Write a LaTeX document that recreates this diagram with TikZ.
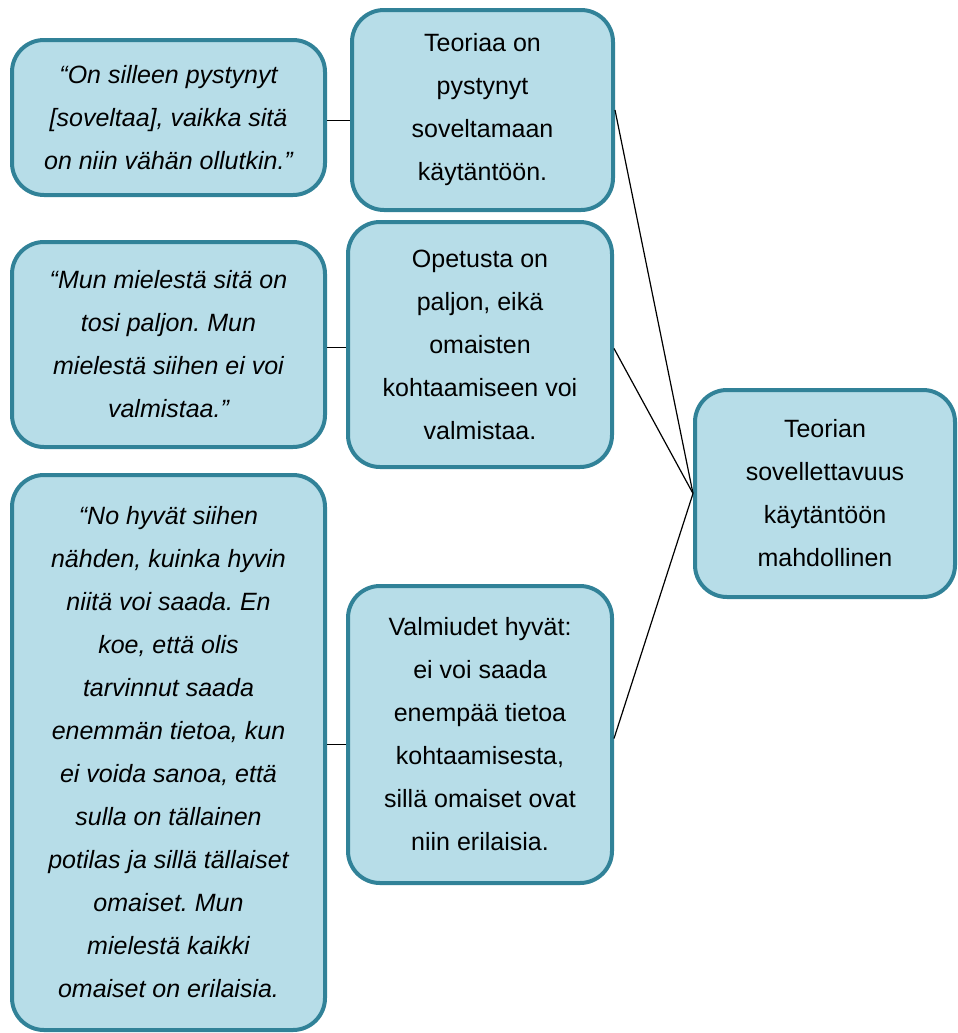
\documentclass[tikz,border=0pt]{standalone}
\usepackage{fontspec}
\setmainfont{Liberation Sans}
\definecolor{boxfill}{RGB}{183,221,232}
\definecolor{boxline}{RGB}{49,130,152}
\begin{document}
\frenchspacing
\begin{tikzpicture}[x=0.5pt,y=-0.5pt,
  box/.style={draw=boxline,fill=boxfill,line width=2pt,rounded corners=16pt,
    align=center,inner sep=0pt,font=\fontsize{12.5pt}{21.5pt}\selectfont},
  quote/.style={box,font=\fontsize{12.5pt}{21.5pt}\selectfont\itshape},
  link/.style={draw=black,line width=0.6pt}]
\useasboundingbox (0,0) rectangle (958,1033);
\node[quote,minimum width=156.5pt,minimum height=77.5pt] (q1) at (168.5,117.5)
  {“On silleen pystynyt\\{}{[}soveltaa{]}, vaikka sitä\\on niin vähän ollutkin.”};
\node[box,minimum width=130.5pt,minimum height=100pt] (t1) at (482.5,110)
  {Teoriaa on\\pystynyt\\soveltamaan\\käytäntöön.};
\node[quote,minimum width=156.5pt,minimum height=102.5pt] (q2) at (168.5,344.5)
  {“Mun mielestä sitä on\\tosi paljon. Mun\\mielestä siihen ei voi\\valmistaa.”};
\node[box,minimum width=132pt,minimum height=122.5pt] (t2) at (480,344.5)
  {Opetusta on\\paljon, eikä\\omaisten\\kohtaamiseen voi\\valmistaa.};
\node[quote,minimum width=156.5pt,minimum height=277.5pt] (q3) at (168.5,752.5)
  {“No hyvät siihen\\nähden, kuinka hyvin\\niitä voi saada. En\\koe, että olis\\tarvinnut saada\\enemmän tietoa, kun\\ei voida sanoa, että\\sulla on tällainen\\potilas ja sillä tällaiset\\omaiset. Mun\\mielestä kaikki\\omaiset on erilaisia.};
\node[box,minimum width=132pt,minimum height=148.5pt] (t3) at (480,734.5)
  {Valmiudet hyvät:\\ei voi saada\\enempää tietoa\\kohtaamisesta,\\sillä omaiset ovat\\niin erilaisia.};
\node[box,minimum width=130pt,minimum height=103.5pt] (r) at (825,493.5)
  {Teorian\\sovellettavuus\\käytäntöön\\mahdollinen};
\draw[link] ([yshift=-1.5pt]q1.east) -- ([yshift=-1.5pt]q1.east -| t1.west);
\draw[link] ([yshift=-1.5pt]q2.east) -- ([yshift=-1.5pt]q2.east -| t2.west);
\draw[link] ([yshift=4pt]q3.east) -- ([yshift=4pt]q3.east -| t3.west);
\draw[link] (t1.east) -- (r.west);
\draw[link] ([yshift=-2pt]t2.east) -- (r.west);
\draw[link] ([yshift=-2pt]t3.east) -- (r.west);
\end{tikzpicture}
\end{document}
